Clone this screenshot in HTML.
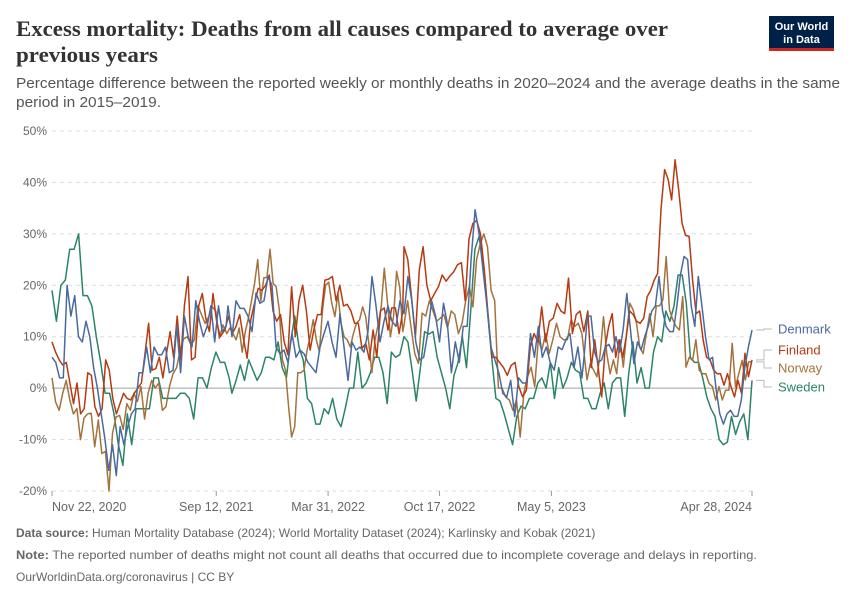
<!DOCTYPE html>
<html><head><meta charset="utf-8"><style>
body{margin:0;background:#fff;}
svg{display:block;font-family:"Liberation Sans",sans-serif;}
</style></head><body>
<svg id="chart" width="850" height="600" viewBox="0 0 850 600" xmlns="http://www.w3.org/2000/svg">
<text x="16" y="36" font-family="Liberation Serif, serif" font-weight="bold" font-size="22" fill="#333" textLength="652" lengthAdjust="spacingAndGlyphs">Excess mortality: Deaths from all causes compared to average over</text>
<text x="16" y="62" font-family="Liberation Serif, serif" font-weight="bold" font-size="22" fill="#333" textLength="142" lengthAdjust="spacingAndGlyphs">previous years</text>
<text x="16" y="88" font-size="14.5" fill="#555" textLength="824" lengthAdjust="spacingAndGlyphs">Percentage difference between the reported weekly or monthly deaths in 2020–2024 and the average deaths in the same</text>
<text x="16" y="107" font-size="14.5" fill="#555" textLength="145" lengthAdjust="spacingAndGlyphs">period in 2015–2019.</text>
<g>
<rect x="769" y="16" width="65" height="32" fill="#002147"/>
<rect x="769" y="48" width="65" height="3" fill="#ce261e"/>
<text x="801.5" y="30" text-anchor="middle" font-size="11" font-weight="bold" fill="#fff">Our World</text>
<text x="801.5" y="43" text-anchor="middle" font-size="11" font-weight="bold" fill="#fff">in Data</text>
</g>
<g id="grid"></g><g id="xaxis"></g><g id="lines"></g><g id="legend"></g>
<text x="16" y="537" font-size="12" fill="#666"><tspan font-weight="bold">Data source:</tspan> Human Mortality Database (2024); World Mortality Dataset (2024); Karlinsky and Kobak (2021)</text>
<text x="16" y="559" font-size="12" fill="#666" textLength="741" lengthAdjust="spacingAndGlyphs"><tspan font-weight="bold">Note:</tspan> The reported number of deaths might not count all deaths that occurred due to incomplete coverage and delays in reporting.</text>
<text x="16" y="581" font-size="12" fill="#666">OurWorldinData.org/coronavirus | CC BY</text>
</svg>
<script>
const yTicks=[50,40,30,20,10,0,-10,-20];
const xTickWeeks=[0,42,70.6,99.1,127.7,179];
const xTickLabels=["Nov 22, 2020","Sep 12, 2021","Mar 31, 2022","Oct 17, 2022","May 5, 2023","Apr 28, 2024"];
const countries=["Denmark","Finland","Norway","Sweden"];
const colors={Denmark:"#4a6a9f",Finland:"#b53b12",Norway:"#a3733e",Sweden:"#2b8465"};
// segment week ranges per series
const denmarkWeeks=[[0,44.5],[45,90],[91,135.5],[136,179]];
const finlandWeeks=[[0,43],[44.2,89.7],[90,136],[137,179]];
const norwayWeeks=[[0,43.7],[44.7,89.7],[90,135.5],[136.8,179]];
const swedenWeeks=[[0,45.3],[46,90],[91,136],[137,179]];
const denmark1=[6,5,2,2,20,14,18,10,9,13,10,4,0,-5,-10,-16,-11,-17,-7.5,-11,-7.5,-5,-4,3,3,8,3,8,6.5,6.5,8,3,3.5,12,3,14,10,8,17,13,10,12,16,9,16,11,12];
const denmark2=[16,10,17,15.5,15.5,14,11,18.5,16.5,17,21.7,20,8,6.7,7.4,5,10.6,6,7.4,6.7,5,4,3,8,10.6,13,9,6,14.5,8,1.5,9,7.4,8,7,11,21.7,16,9,13,16,13,12,17,14.5];
const denmark3=[21.7,17,9,5.5,6,10.5,17,14,9,16.5,12.5,3,9,5,12,12,25,34.7,30,23,16,8,5.5,3,-1,-1.7,1.5,-5.5,2,1,1,10.6,6,12,6,8,5,3.5,8,7.5,9.5,10.6,4,8,2];
const denmark4=[5.5,14,14,7,5,5.5,8,8.5,7,10,7,11.5,18.4,11.5,4.8,9,7.4,10,12,15,16,21.7,15,12,11,11,16,22,25.6,25,16,12,21.7,16,10,5.5,6,-0.4,-5,-7,-5,-4.3,-5.5,-5.5,-2.3,4,8,11.3];
const finland1=[9,7,5.5,4.5,5,1,-3,1,-5,-4,3,2.5,-3.6,-5.5,-4,5.5,3.5,-2,-5,-3,-1,-2,-2.3,-1,0,1,6.7,12.6,3.5,3.8,6,2,6.7,11,6,14,5.5,16,21.7,5.5,6,16,18.4,13.6,11,18.4,13,10];
const finland2=[11.3,14,10.6,12,14.3,9.7,5.8,13.3,16.5,19.4,19,20,22,15,13,14.3,9,6.5,19.7,10,17,20,15,7.4,11.3,14.3,14.3,21,21.2,21.7,17,20,16,16.3,15,12.6,12.6,7.7,8.7,5.5,11.3,6,15,15.6,11.3,15.6,15.6,10.6,15];
const finland3=[27.5,25,17.5,10,23,27.5,20,17,18.4,19.7,22,20.8,21.8,22.6,24,24.4,17,29,32,32.6,30,23,14,6,6,5,4,2.5,4.4,5,0.3,-1.7,-0.4,8,10.6,9,15.8,9,13,13.6,16.5,15,14.5,21.4,10.6,14.3,15,11];
const finland4=[15,4,9.4,4,-1.7,8,12,14.5,6,9.4,6,10,15,14.3,13,12.6,13.6,17.8,19,21,22.3,35,42.5,40.6,36.6,44.4,38.7,32,29.7,29.5,21,14.5,15,9.4,6,5.5,3.5,2.8,2.8,0.6,2.8,0.3,-1.7,1.5,-1,6.8,2.2,5.5];
const norway1=[2,-2.7,-4.3,-1,1.5,-2.3,-5,-4,-10,-5.8,-5,-4.9,-11.4,-6.2,-12.7,-12.3,-20,-8.8,-5.6,-5.3,-8,-3,-4.3,-1,-2.6,0.3,-6,-1,1.5,0,1,-4.3,-3.6,0.3,2.8,4,7.4,9.6,10,8.4,9.4,16,14.3,12.6,13.9,15.8,15,9.7,12.3];
const norway2=[10.6,11.7,10.6,9.4,11.7,7,11,13.6,17,20.4,25,17,21.5,21.5,27,20.4,19.7,15.2,5.5,3.5,-3.6,-9.5,-7.5,3,3,3.5,7.4,10,13.3,9.4,7,15.2,20,20.6,16.5,13.9,18.4,12.6,10,9.4,8,10.6,12.6,13.3,15.8,13.9,8.7,3,9.4,12.3,15.8,23.3,17,10,13.9,22.7,19.7,11];
const norway3=[12.3,17,11.6,6.7,4.8,14.6,14,17,15,13,13.6,14.3,11.7,15,14.3,10.6,12.6,17,19.7,15.8,25,28,30,27.5,19,17,0,0,-1.7,-2.3,-4.3,-2.3,-9.5,-1,2.2,4.1,0.3,9.4,7.4,10.6,6.7,9.4,12.6,10,9.4,9.4,13.3,12,12.6,10.6];
const norway4=[1.6,4.8,3.5,2.2,6.7,13.9,6.7,2.8,5.5,2.8,9.4,4.1,10.6,16.5,15.2,12.6,8,6.7,10.6,14.5,10,16,16,17.2,25.6,15.2,13.3,12,11.3,17.8,4.1,6,5.4,9.4,3.5,2.8,2.8,0.9,0.3,-2.3,0.3,-2.3,-0.4,-0.4,8.7,0.3,2.8,5.4,1.6,5.1,5.1];
const sweden1=[19,13,20,21,27,27,30,18,18,16,10,5,-1,-1,-5,-11,-15,-5,-11,-4,-4,-4,-4,2,2,-2,-2,-2,-2,-1,-1,-2,-6,2,2,0,4,7,5,5,2];
const sweden2=[-1,1.5,4.5,1.5,5.5,3.5,1.5,3,6,6,5.5,9,4,2,9,14,8,5.5,-2,-3,-7,-7,-4,-5,-2,-6,-7.5,-4,0,0,7,0,1,3,6,6,3,-3,7,6,6.5,10];
const sweden3=[9,3.5,-2.5,4,11,10.5,11,6,3,0,-4,2.5,5,10,4,15,27,29.5,24,15,6,-2,-2.5,-5,-8,-11,-5.5,-3.5,-4,-2,-2,1,2,0,5,-2,4,0,2,5,3.5,3,-2];
const sweden4=[-2,-4,-4,-1,1,-4,1,2,2,-5.5,3,9,1,4,0,0,7,10,9,15,13,16,22,22,16.5,6,5,5,2,-1.7,-4,-5.5,-10,-11,-10.5,-5.5,-9,-6.5,-5,-10,1.5];
const legendY=[329,350,368,387];

const X0=52,X1=752,W0=0,W1=179,Y_TOP=131,Y_BOT=491,V_TOP=50,V_BOT=-20;
const xs=w=>X0+(w-W0)/(W1-W0)*(X1-X0);
const ys=v=>Y_TOP+(V_TOP-v)/(V_TOP-V_BOT)*(Y_BOT-Y_TOP);
const NS="http://www.w3.org/2000/svg";
function mk(tag,attrs,parent){const e=document.createElementNS(NS,tag);for(const k in attrs)e.setAttribute(k,attrs[k]);parent.appendChild(e);return e;}
const grid=document.getElementById('grid');
yTicks.forEach(t=>{
  const y=ys(t);
  const l=mk('line',{x1:X0,x2:X1,y1:y,y2:y,stroke:t===0?'#a1a1a1':'#ddd','stroke-width':1,'stroke-dasharray':t===0?'none':'4,4'},grid);
  
  
  const tx=mk('text',{x:47,y:y+4,'text-anchor':'end','font-size':12,fill:'#666'},grid);
  tx.textContent=t+'%';
  
  
});
const xa=document.getElementById('xaxis');
xTickWeeks.forEach((w,i)=>{
  const x=xs(w);
  const tk=mk('line',{x1:x,x2:x,y1:491,y2:496,stroke:'#999'},xa);
  
  
  const anchor=i===0?'start':(i===xTickWeeks.length-1?'end':'middle');
  const tx=mk('text',{x:i===0?x:x,y:511,'text-anchor':anchor,'font-size':12.5,fill:'#666'},xa);
  tx.textContent=xTickLabels[i];
  
  
});
const series={Denmark:[denmarkWeeks,[denmark1,denmark2,denmark3,denmark4]],Finland:[finlandWeeks,[finland1,finland2,finland3,finland4]],Norway:[norwayWeeks,[norway1,norway2,norway3,norway4]],Sweden:[swedenWeeks,[sweden1,sweden2,sweden3,sweden4]]};
const lines=document.getElementById('lines');
const lastVals={};
["Sweden","Norway","Finland","Denmark"].forEach(c=>{
  const [wk,segs]=series[c];
  const pts=[];
  segs.forEach((arr,s)=>{
    const a=wk[s][0],b=wk[s][1];
    arr.forEach((v,i)=>{const w=a+(b-a)*i/(arr.length-1);pts.push(xs(w).toFixed(1)+','+ys(v).toFixed(1));});
  });
  const last=segs[3];lastVals[c]=last[last.length-1];
  const p=mk('polyline',{points:pts.join(' '),fill:'none',stroke:colors[c],'stroke-width':1.5,'stroke-linejoin':'round'},lines);
  
  
});
const lg=document.getElementById('legend');
countries.forEach((c,i)=>{
  const ly=legendY[i], sy=ys(lastVals[c]);
  const path=mk('path',{d:`M756 ${sy} H764 V${ly} H772`,fill:'none',stroke:'#bbb','stroke-width':1},lg);
  
  
  const t=mk('text',{x:778,y:ly+4.5,'font-size':13,fill:colors[c]},lg);
  t.textContent=c;
  
  
});
</script>
</body></html>
